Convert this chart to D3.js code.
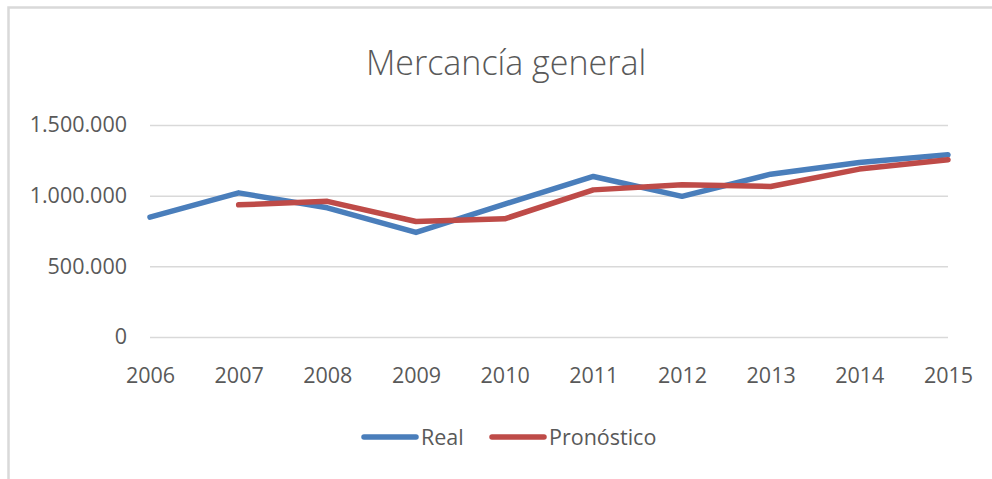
<html>
<script src="https://d3js.org/d3.v7.min.js"></script>
<style>
  body {margin: 0; background: #fff;}
  text {font-family: "Open Sans", sans-serif; fill: #595959;}
</style>
<body>
<svg width="992" height="479"></svg>
<script>
var years = ["2006","2007","2008","2009","2010","2011","2012","2013","2014","2015"];
var real = [848000, 1020000, 914000, 740000, 940000, 1136000, 995000, 1152000, 1235000, 1289000];
var pronostico = [null, 935000, 960000, 817000, 836000, 1041000, 1077000, 1065000, 1188000, 1254000];
var yTicks = [0, 500000, 1000000, 1500000];

var svg = d3.select("svg");

// chart area border (cut by the picture on the right and bottom)
svg.append("rect").attr("x", 8.5).attr("y", 7.5).attr("width", 1100).attr("height", 600)
   .attr("fill", "none").attr("stroke", "#d9d9d9").attr("stroke-width", 2.5);

var x = d3.scalePoint().domain(years).range([150, 948]);
var y = d3.scaleLinear().domain([0, 1500000]).range([337, 125]);

var es = d3.formatLocale({decimal: ",", thousands: ".", grouping: [3], currency: ["", ""]});

var yAxis = d3.axisLeft(y).tickValues(yTicks).tickFormat(es.format(",d"))
              .tickSize(-(948 - 150)).tickPadding(23);
var gy = svg.append("g").attr("transform", "translate(150,0)").call(yAxis);
gy.select(".domain").remove();
gy.selectAll("line").attr("stroke", "#d9d9d9").attr("stroke-width", 1.5);
gy.selectAll("text").attr("font-size", 21.5).attr("fill", "#595959").attr("font-family", "Open Sans");

var xAxis = d3.axisBottom(x).tickSize(0).tickPadding(0);
var gx = svg.append("g").attr("transform", "translate(0,337)").call(xAxis);
gx.select(".domain").remove();
gx.selectAll("text").attr("font-size", 21.5).attr("fill", "#595959").attr("font-family", "Open Sans")
  .attr("dy", null).attr("y", 46);

var line = d3.line()
  .defined(function(d){ return d != null; })
  .x(function(d, i){ return x(years[i]); })
  .y(function(d){ return y(d); });

svg.append("path").datum(real).attr("d", line)
   .attr("fill", "none").attr("stroke", "#4a7ebb").attr("stroke-width", 5.5)
   .attr("stroke-linejoin", "round").attr("stroke-linecap", "round");
svg.append("path").datum(pronostico).attr("d", line)
   .attr("fill", "none").attr("stroke", "#be4b48").attr("stroke-width", 5.5)
   .attr("stroke-linejoin", "round").attr("stroke-linecap", "round");

// title
svg.append("text").attr("x", 506).attr("y", 75).attr("text-anchor", "middle")
   .attr("font-size", 34).attr("font-weight", 300).text("Mercancía general");

// legend
var legend = [{name: "Real", color: "#4a7ebb", x: 364}, {name: "Pronóstico", color: "#be4b48", x: 492}];
var lg = svg.append("g").selectAll("g").data(legend).enter().append("g");
lg.append("line").attr("x1", function(d){ return d.x; }).attr("x2", function(d){ return d.x + 52; })
  .attr("y1", 437).attr("y2", 437).attr("stroke", function(d){ return d.color; })
  .attr("stroke-width", 5.5).attr("stroke-linecap", "round");
lg.append("text").attr("x", function(d){ return d.x + 57; }).attr("y", 445)
  .attr("font-size", 21.5).text(function(d){ return d.name; });
</script>
</body>
</html>
